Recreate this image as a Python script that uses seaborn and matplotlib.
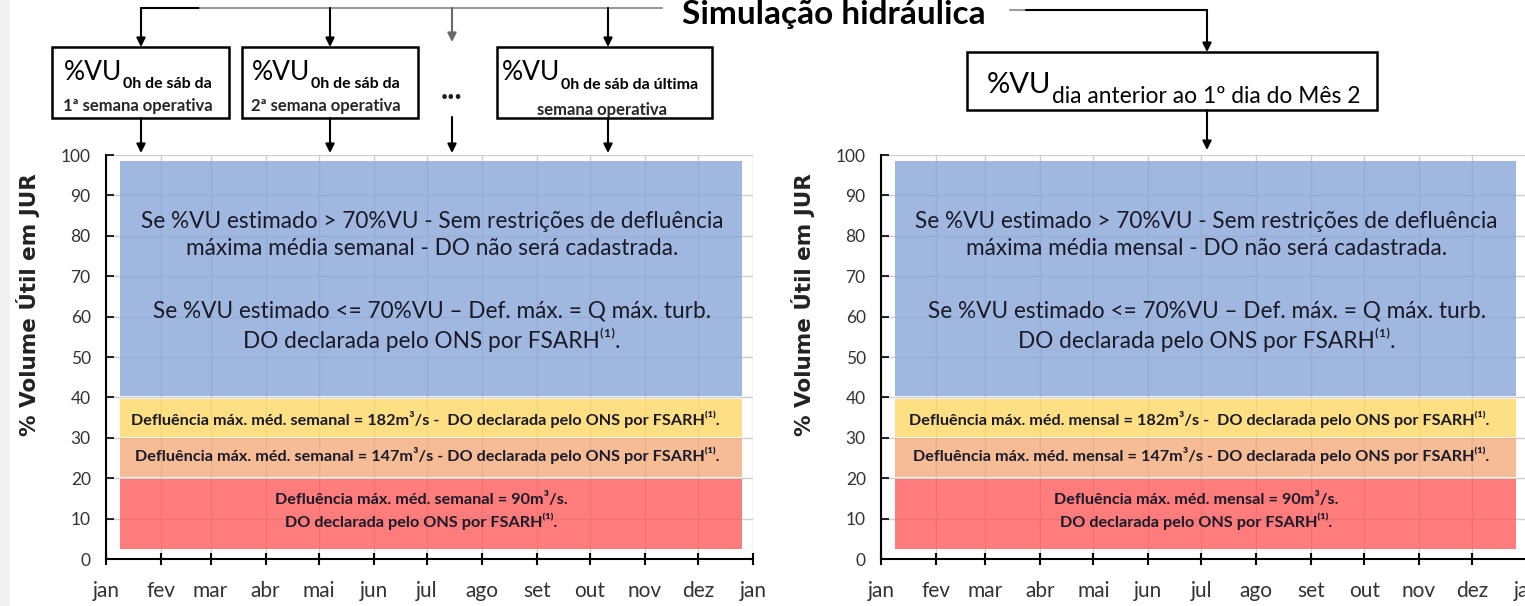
import matplotlib
matplotlib.use('Agg')
import matplotlib.pyplot as plt
import seaborn as sns
from matplotlib.patches import Rectangle

# eixo x: meses do ano (posição em dias)
months = ['jan', 'fev', 'mar', 'abr', 'mai', 'jun', 'jul',
          'ago', 'set', 'out', 'nov', 'dez', 'jan']
month_days = [0, 31, 59, 90, 120, 151, 181, 212, 243, 273, 304, 334, 365]
y_ticks = [0, 10, 20, 30, 40, 50, 60, 70, 80, 90, 100]

# faixas de %VU (vermelho, salmão, amarelo, azul)
band_start = 8
band_end = 359
band_bottom = [2.5, 20.2, 30.1, 40.4]
band_top = [19.7, 29.9, 39.6, 98.5]
band_colors = ['#ff5b5b', '#f4ab7c', '#ffd864', '#88a6d8']

blue_text_1 = ('Se %VU estimado > 70%VU - Sem restrições de defluência\n'
               'máxima média {p} - DO não será cadastrada.')
blue_text_2 = ('Se %VU estimado <= 70%VU – Def. máx. = Q máx. turb.\n'
               'DO declarada pelo ONS por FSARH⁽¹⁾.')
yellow_text = ('Defluência máx. méd. {p} = 182m³/s -  '
               'DO declarada pelo ONS por FSARH⁽¹⁾.')
salmon_text = ('Defluência máx. méd. {p} = 147m³/s - '
               'DO declarada pelo ONS por FSARH⁽¹⁾.')
red_text = ('Defluência máx. méd. {p} = 90m³/s.\n'
            'DO declarada pelo ONS por FSARH⁽¹⁾.')
periods = ['semanal', 'mensal']

W, H = 1525, 606

sns.set_theme(style='white')
plt.rcParams['font.family'] = ['Lato', 'DejaVu Sans']

fig = plt.figure(figsize=(W / 100, H / 100), dpi=100)

txt_color = '#1a1a28'


def draw_panel(ax, period):
    for b, t, c in zip(band_bottom, band_top, band_colors):
        ax.bar(band_start, t - b, bottom=b, width=band_end - band_start,
               align='edge', color=c, alpha=0.8, linewidth=0, zorder=2)
    ax.set_xlim(0, 365)
    ax.set_ylim(0, 100)
    ax.set_xticks(month_days)
    ax.set_xticklabels(months)
    ax.set_yticks(y_ticks)
    ax.grid(True, color='#cfcfcf', linewidth=1)
    ax.set_axisbelow(True)
    for s in ['top', 'right']:
        ax.spines[s].set_visible(False)
    for s in ['left', 'bottom']:
        ax.spines[s].set_color('black')
        ax.spines[s].set_linewidth(1.5)
    ax.tick_params(axis='x', bottom=True, direction='inout', length=9,
                   width=1.5, color='black', pad=11, labelsize=15,
                   labelcolor='#333333')
    ax.tick_params(axis='y', left=True, direction='in', length=6,
                   width=1.2, color='black', pad=11, labelsize=12.5,
                   labelcolor='#333333')
    ax.set_ylabel('% Volume Útil em JUR', family='DejaVu Sans',
                  fontweight='bold', fontsize=15.5, color='#222222')
    ax.yaxis.set_label_coords(-0.102, 0.63)

    ax.text(184, 80.3, blue_text_1.format(p=period), ha='center',
            va='center', fontsize=16.3, linespacing=1.36, color=txt_color,
            zorder=5)
    ax.text(184, 57.5, blue_text_2, ha='center', va='center',
            fontsize=16.3, linespacing=1.3, color=txt_color, zorder=5)
    ax.text(180, 34.6, yellow_text.format(p=period), ha='center',
            va='center', fontsize=11.7, fontweight='bold', color=txt_color,
            zorder=5)
    ax.text(181, 25.6, salmon_text.format(p=period), ha='center',
            va='center', fontsize=11.7, fontweight='bold', color=txt_color,
            zorder=5)
    ax.text(178, 11.9, red_text.format(p=period), ha='center',
            va='center', fontsize=11.7, fontweight='bold',
            linespacing=1.38, color=txt_color, zorder=5)


ax1 = fig.add_axes([106 / W, 1 - 559 / H, 647 / W, 404 / H])
ax2 = fig.add_axes([881 / W, 1 - 559 / H, 646 / W, 404 / H])
draw_panel(ax1, periods[0])
draw_panel(ax2, periods[1])

# camada superior em pixels para o fluxograma
ov = fig.add_axes([0, 0, 1, 1], zorder=10)
ov.set_xlim(0, W)
ov.set_ylim(H, 0)
ov.axis('off')
renderer = fig.canvas.get_renderer()

ov.add_patch(Rectangle((0, 0), 10, H, color='#f1f1f1', lw=0))


def arrow(x, y0, y1, color='black'):
    ov.annotate('', xy=(x, y1), xytext=(x, y0),
                arrowprops=dict(arrowstyle='-|>', color=color, lw=1.5,
                                mutation_scale=13, shrinkA=0, shrinkB=0))


def box(x0, y0, x1, y1):
    ov.add_patch(Rectangle((x0, y0), x1 - x0, y1 - y0, facecolor='white',
                           edgecolor='black', lw=1.8))


def vu_label(x, y, sub, size, sub_size, drop, sub_weight):
    t = ov.text(x, y, '%VU', fontsize=size, ha='left', va='baseline',
                color='black')
    bb = t.get_window_extent(renderer)
    ov.text(bb.x1 + 1, y + drop, sub, fontsize=sub_size, ha='left',
            va='baseline', fontweight=sub_weight, color='black')


ov.text(834, 24, 'Simulação hidráulica', fontsize=24, fontweight='bold',
        ha='center', va='baseline', color='black')

ov.plot([141, 200], [8, 8], color='black', lw=1.5)
ov.plot([200, 662], [8, 8], color='#9a9a9a', lw=1.5)
for x in [141, 330, 608]:
    arrow(x, 8, 47)
    arrow(x, 118, 153)
arrow(452, 8, 42, color='#6a6a6a')
arrow(452, 117, 153)

box(52, 47, 229, 118)
box(242, 47, 418, 118)
box(497, 47, 712, 118)
vu_label(64, 80, '0h de sáb da', 19, 11.5, 8, 'bold')
ov.text(63, 111, '1ª semana operativa', fontsize=12, fontweight='bold',
        ha='left', va='baseline')
vu_label(252, 80, '0h de sáb da', 19, 11.5, 8, 'bold')
ov.text(251, 111, '2ª semana operativa', fontsize=12, fontweight='bold',
        ha='left', va='baseline')
vu_label(502, 80, '0h de sáb da última', 19, 11.5, 9, 'bold')
ov.text(537, 115, 'semana operativa', fontsize=12, fontweight='bold',
        ha='left', va='baseline')
ov.text(452, 90, '...', fontsize=22, fontweight='bold', ha='center',
        va='center', color='#1a1a28')

ov.plot([1010, 1026], [10, 10], color='#9a9a9a', lw=1.5)
ov.plot([1026, 1207], [10, 10], color='black', lw=1.5)
arrow(1207, 10, 52)
arrow(1207, 110, 150)
box(967, 52, 1377, 110)
vu_label(987, 93, 'dia anterior ao 1º dia do Mês 2', 21, 16.4, 10, 'normal')

fig.savefig('out.png', dpi=100)
